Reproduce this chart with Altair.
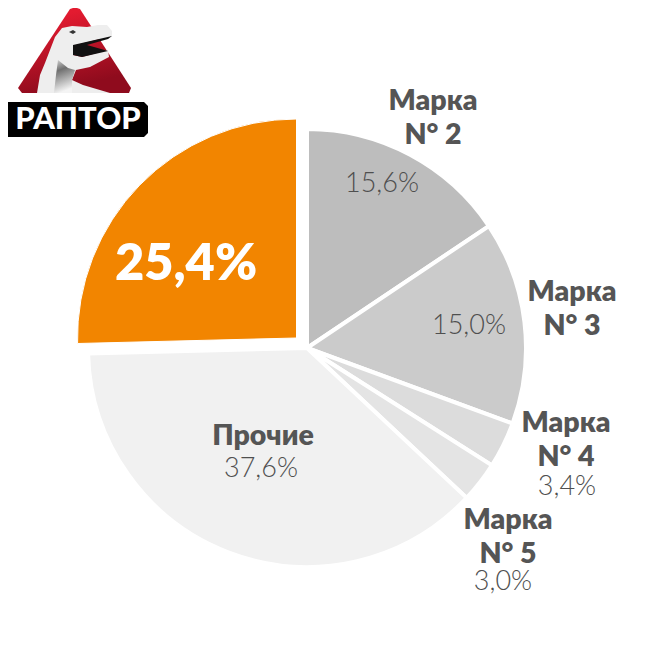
import altair as alt
import pandas as pd

W = H = 625
OFF = 8
FONT = "Lato"

# data
names = ["Марка 1", "Марка 2", "Марка 3", "Марка 4", "Марка 5", "Прочие"]
shares = [25.4, 15.6, 15.0, 3.4, 3.0, 37.6]
colors = ["#f28500", "#bdbdbd", "#cbcbcb", "#dcdcdc", "#e4e4e4", "#f1f1f1"]

bold_labels = ["Марка", "N° 2", "Марка", "N° 3", "Марка", "N° 4", "Марка", "N° 5", "Прочие"]
bold_x = [433, 433, 572, 572, 566, 566, 508, 508, 263]
bold_y = [101, 135, 292, 326, 423, 457, 520, 554, 436]
value_labels = ["15,6%", "15,0%", "3,4%", "3,0%", "37,6%"]
value_x = [382, 469, 567, 503, 261]
value_y = [184, 326, 487, 582, 469]

# orange slice sits last in the clockwise order, others run from 12 o'clock
order = [1, 2, 3, 4, 5, 0]
rows, acc = [], 0.0
for i in order:
    rows.append({"name": names[i], "start": acc, "end": acc + shares[i], "color": colors[i]})
    acc += shares[i]
df = pd.DataFrame(rows)

theta_scale = alt.Scale(domain=[0, 100], range=[0, 6.283185307])


def slices(data, cx, cy, r, sw):
    return alt.Chart(data).mark_arc(radius=r, stroke="white", strokeWidth=sw).encode(
        theta=alt.Theta("start:Q", scale=theta_scale),
        theta2="end:Q",
        fill=alt.Fill("color:N", scale=None),
        x=alt.value(cx - OFF),
        y=alt.value(cy - OFF),
    )


rest = slices(df[df.name != "Марка 1"], 307, 348, 219, 4)
top = slices(df[df.name == "Марка 1"], 296.5, 338, 219, 1)


def labels(txt, xs, ys, size, weight, color):
    d = pd.DataFrame({"t": txt, "x": [v - OFF for v in xs], "y": [v - OFF for v in ys]})
    return alt.Chart(d).mark_text(
        font=FONT, fontSize=size, fontWeight=weight, color=color, align="center", baseline="middle"
    ).encode(x=alt.X("x:Q", scale=None), y=alt.Y("y:Q", scale=None), text="t:N")


bold = labels(bold_labels, bold_x, bold_y, 28.5, 800, "#555555")
vals = labels(value_labels, value_x, value_y, 27, 300, "#4f4f4f")
big = labels(["25,4%"], [186], [265], 50.5, 800, "#ffffff")


# logo, as vector shapes (a symbol of size 4 draws its path at scale 1)
def shifted(points):
    return "M" + " L".join(f"{x - OFF} {y - OFF}" for x, y in points) + " Z"


def logo_shape(points, fill):
    return alt.Chart(pd.DataFrame({"a": [0]})).mark_point(
        shape=shifted(points), size=4, fill=fill, filled=True, opacity=1, strokeWidth=0
    ).encode(x=alt.value(0), y=alt.value(0))


red = alt.Gradient(
    gradient="linear", x1=0, y1=0.2, x2=0.25, y2=1,
    stops=[alt.GradientStop(offset=0, color="#e31b30"), alt.GradientStop(offset=1, color="#8f0b1d")],
)
neck = alt.Gradient(
    gradient="linear", x1=0, y1=0, x2=0.25, y2=1,
    stops=[alt.GradientStop(offset=0, color="#d8d8d8"), alt.GradientStop(offset=0.35, color="#707070"),
           alt.GradientStop(offset=1, color="#f4f4f4")],
)
logo = [
    logo_shape([(70, 9), (73, 8), (77, 8), (80, 9), (131, 88), (129, 93), (22, 93), (18, 88)], red),
    logo_shape([(37, 93), (40, 75), (45, 63), (55, 37), (62, 28), (72, 26), (87, 27), (98, 25), (107, 25),
                (112, 31), (112, 36), (76, 45), (73, 55), (82, 57), (108, 50), (109, 57), (90, 67), (76, 70),
                (72, 80), (83, 85), (110, 93)], "#eeeeee"),
    logo_shape([(58, 60), (68, 68), (75, 70), (72, 80), (72, 93), (54, 93), (56, 75)], neck),
    logo_shape([(73, 45), (112, 36), (108, 39), (87, 45), (108, 51), (82, 57), (73, 55)], "#111111"),
    logo_shape([(69, 32), (73, 30), (76, 32), (73, 34)], "#333333"),
    logo_shape([(8, 102), (144, 102), (148, 106), (148, 133), (144, 137), (8, 137)], "#000000"),
]
logo_text = labels(["РАПТОР"], [78], [120], 31, 900, "#ffffff")

chart = alt.layer(rest, top, bold, vals, big, *logo, logo_text).properties(
    width=W, height=H, padding=0, autosize=alt.AutoSizeParams(type="none")
).configure_view(stroke=None).configure_axis(disable=True)

chart.save("out.html", embed_options={"renderer": "svg", "actions": False})
